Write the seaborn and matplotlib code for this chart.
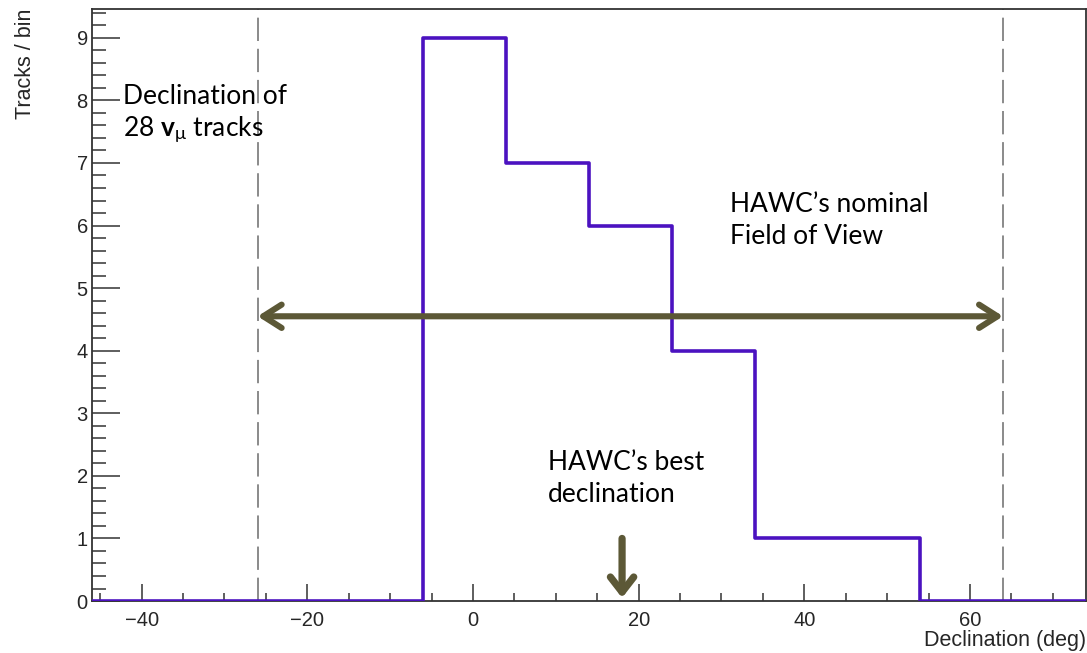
import numpy as np
import matplotlib
matplotlib.use("Agg")
import matplotlib.pyplot as plt
from matplotlib.ticker import MultipleLocator
import seaborn as sns

# Track counts per 10-degree declination bin
bin_edges = [-46, -36, -26, -16, -6, 4, 14, 24, 34, 44, 54, 64, 74]
track_counts = [0, 0, 0, 0, 9, 7, 6, 4, 1, 1, 0, 0]

# Field-of-view limits and best declination
fov_limits = [-26, 64]
fov_arrow_y = 4.55
best_declination = 18

hist_color = "#4b12c0"
arrow_color = "#5c5836"
dash_color = "#8a8a8a"

sns.set_theme(style="ticks")
plt.rcParams["font.family"] = ["Liberation Sans", "DejaVu Sans"]
plt.rcParams["mathtext.fontset"] = "custom"
plt.rcParams["mathtext.rm"] = "Lato"
plt.rcParams["mathtext.bf"] = "Lato:bold"
plt.rcParams["mathtext.it"] = "Lato:italic"

fig = plt.figure(figsize=(10.87, 6.53), dpi=100)
ax = fig.add_axes([0.0846, 0.0796, 0.9144, 0.9066])

centers = [(a + b) / 2 for a, b in zip(bin_edges[:-1], bin_edges[1:])]
sns.histplot(x=centers, weights=track_counts, bins=bin_edges, element="step",
             fill=False, color=hist_color, linewidth=2.6, ax=ax, zorder=3)

ax.set_xlim(bin_edges[0], bin_edges[-1])
ax.set_ylim(0, 9.46)

# Field-of-view boundaries
for xv in fov_limits:
    ax.axvline(xv, color=dash_color, lw=1.4, dashes=(12, 4), zorder=2)

# Field-of-view span
ax.annotate("", xy=(fov_limits[0], fov_arrow_y), xytext=(fov_limits[1], fov_arrow_y),
            arrowprops=dict(arrowstyle="<->,head_length=1.1,head_width=0.7",
                            color=arrow_color, lw=4.4, shrinkA=0, shrinkB=0,
                            capstyle="round", joinstyle="round"),
            zorder=4)

# Best declination marker
ax.annotate("", xy=(best_declination, 0.05), xytext=(best_declination, 1.0),
            arrowprops=dict(arrowstyle="->,head_length=0.9,head_width=0.7",
                            color=arrow_color, lw=5.2, shrinkA=0, shrinkB=0,
                            capstyle="round", joinstyle="round"),
            zorder=4)

note_font = dict(family=["Lato", "DejaVu Sans"], fontsize=19, color="black")
ax.text(-42.2, 7.95, "Declination of", va="baseline", **note_font)
ax.text(-42.2, 7.43, r"28 $\mathbf{v}_{\mathrm{\mu}}$ tracks", va="baseline", **note_font)
ax.text(31.0, 6.22, "HAWC\u2019s nominal", va="baseline", **note_font)
ax.text(31.0, 5.71, "Field of View", va="baseline", **note_font)
ax.text(9.0, 2.09, "HAWC\u2019s best", va="baseline", **note_font)
ax.text(9.0, 1.58, "declination", va="baseline", **note_font)

# Axis styling with inward ticks
ax.xaxis.set_major_locator(MultipleLocator(20))
ax.xaxis.set_minor_locator(MultipleLocator(5))
ax.yaxis.set_major_locator(MultipleLocator(1))
ax.yaxis.set_minor_locator(MultipleLocator(0.2))
ax.tick_params(axis="x", which="major", direction="in", length=12, width=1.1,
               color="#333333", labelsize=14.5, pad=7)
ax.tick_params(axis="x", which="minor", direction="in", length=6, width=1.1,
               color="#333333")
ax.tick_params(axis="y", which="major", direction="in", length=20, width=1.1,
               color="#333333", labelsize=14.5, pad=3)
ax.tick_params(axis="y", which="minor", direction="in", length=10, width=1.1,
               color="#333333")
for side in ["left", "bottom", "top", "right"]:
    ax.spines[side].set_visible(True)
    ax.spines[side].set_color("#333333")
    ax.spines[side].set_linewidth(1.3)

ax.set_xlabel("Declination (deg)", fontsize=15.5, loc="right", labelpad=0)
ax.set_ylabel("Tracks / bin", fontsize=15.5, loc="top", labelpad=29)

fig.savefig("out.png", dpi=100, facecolor="white")
